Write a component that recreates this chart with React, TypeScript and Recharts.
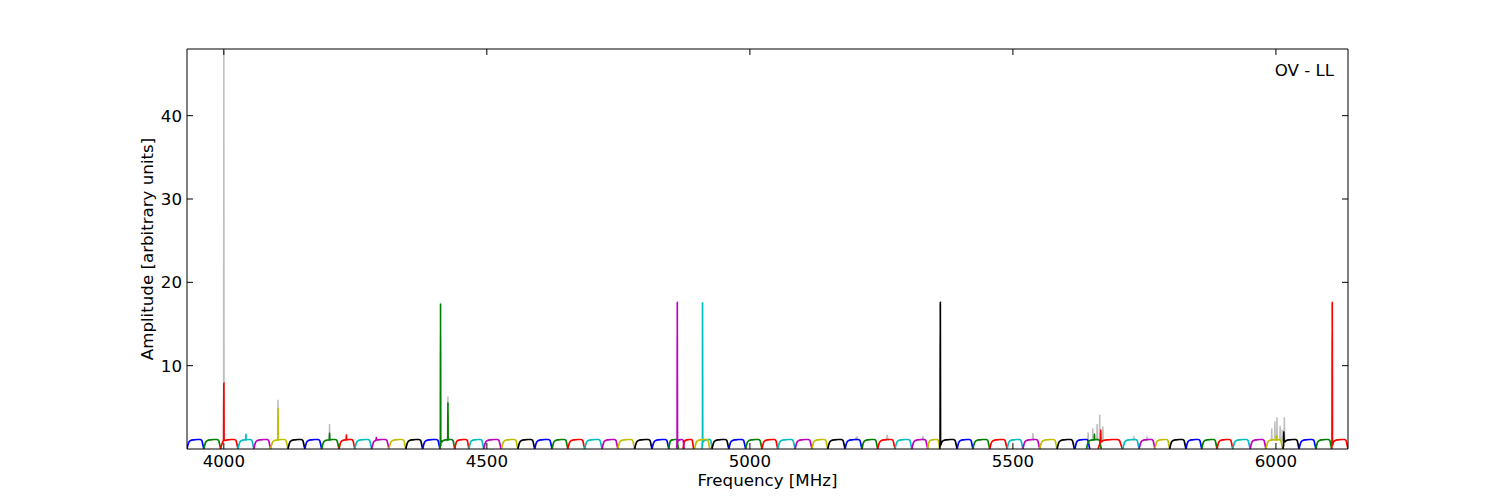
import React from 'react';
import { LineChart, Line, XAxis, YAxis } from 'recharts';

const FONT = '"DejaVu Sans", sans-serif';
const FS = 16.67;

// matplotlib classic colour cycle b g r c m y k
const BAND_COLORS = ['#0000ff', '#008000', '#ff0000', '#00bfbf', '#bf00bf', '#bfbf00', '#000000'];
const GRAY = '#bebebe';

// start frequency (MHz) of every sub-band, in band order
const BAND_START = [
  3930, 3962, 3994, 4027, 4057, 4089, 4122, 4154, 4186, 4219,
  4249, 4281, 4314, 4346, 4378, 4411, 4439, 4466, 4494, 4528,
  4559, 4591, 4624, 4654, 4686, 4719, 4749, 4781, 4814, 4846,
  4873, 4909, 4861, 4895, 4928, 4960, 4992, 5023, 5053, 5086,
  5118, 5148, 5181, 5213, 5243, 5276, 5308, 5338, 5361, 5394,
  5424, 5456, 5489, 5519, 5551, 5584, 5618, 5640, 5662, 5709,
  5740, 5770, 5798, 5829, 5859, 5888, 5918, 5951, 5981, 6013,
  6044, 6076, 6106,
];
// bands whose width differs from the gap to the next one
const BAND_WIDTH_FIX: Record<number, number> = {
  29: 18, 30: 20, 31: 19, 32: 14, 33: 29, 56: 28, 57: 28, 58: 46, 72: 31,
};

// bandpass shape: position across the band (0..1) and amplitude
const PROFILE_POS = [0, 0.05, 0.12, 0.22, 0.4, 0.6, 0.78, 0.88, 0.95, 1];
const PROFILE_AMP = [0.02, 0.45, 0.85, 1.02, 1.1, 1.14, 1.14, 1.02, 0.45, 0.02];

// narrow spikes inside the coloured bands
const SPIKE_BAND = [2, 3, 5, 8, 9, 11, 15, 15, 32, 31, 48, 57, 58, 68, 69, 72];
const SPIKE_FREQ = [4000, 4042, 4103, 4201, 4233, 4290, 4412, 4426, 4862, 4910, 5362, 5655, 5667, 6001, 6015, 6107];
const SPIKE_AMP = [7.9, 1.8, 4.9, 1.9, 1.7, 1.4, 17.5, 5.6, 17.6, 17.6, 17.6, 1.8, 2.3, 1.6, 2.1, 17.6];

// grey (unflagged) spectrum peaks showing behind the bands
const GRAY_FREQ = [4000, 4103, 4201, 4426, 5203, 5261, 5329, 5538, 5643, 5652, 5660, 5665, 5671, 5730, 5755, 5992, 5998, 6002, 6008, 6012, 6016];
const GRAY_AMP = [47.8, 5.9, 3.0, 6.3, 1.5, 1.7, 1.5, 1.9, 2.0, 2.5, 3.0, 4.1, 2.7, 1.4, 1.4, 2.5, 3.3, 3.8, 2.8, 2.3, 3.8];
const GRAY_HALF = [0.5, 0.5, 0.5, 0.5, 2, 2, 2, 1, 0.6, 0.6, 0.6, 0.6, 0.6, 2, 2, 0.6, 0.6, 0.6, 0.6, 0.6, 0.6];

const X_TICKS = [4000, 4500, 5000, 5500, 6000];
const Y_TICKS = [10, 20, 30, 40];

type Pt = { f: number; a: number | null };

function bandSeries(i: number): Pt[] {
  const start = BAND_START[i];
  const next = BAND_START[i + 1];
  const gap = next !== undefined && next > start ? next - start : 31;
  const width = BAND_WIDTH_FIX[i] ?? Math.min(gap, 33);
  const pts: Pt[] = PROFILE_POS.map((p, k) => ({ f: start + p * width, a: PROFILE_AMP[k] }));
  SPIKE_BAND.forEach((b, k) => {
    if (b !== i) return;
    const f = SPIKE_FREQ[k];
    pts.push({ f: f - 0.4, a: 1.08 }, { f, a: SPIKE_AMP[k] }, { f: f + 0.4, a: 1.08 });
  });
  return pts.sort((p, q) => p.f - q.f);
}

const grayData: Pt[] = [];
GRAY_FREQ.forEach((f, k) => {
  const h = GRAY_HALF[k];
  grayData.push({ f: f - h, a: 1 }, { f, a: GRAY_AMP[k] }, { f: f + h, a: 1 }, { f: f + h + 0.01, a: null });
});

const BottomTick = (props: any) => {
  const { x, y, payload } = props;
  return (
    <g>
      <line x1={x} x2={x} y1={y} y2={y - 6} stroke="#000" />
      <text x={x} y={y + 6} dy="0.71em" textAnchor="middle" fontFamily={FONT} fontSize={FS} fill="#000">
        {payload.value}
      </text>
    </g>
  );
};

const TopTick = (props: any) => {
  const { x, y } = props;
  return <line x1={x} x2={x} y1={y} y2={y + 6} stroke="#000" />;
};

const LeftTick = (props: any) => {
  const { x, y, payload } = props;
  return (
    <g>
      <line x1={x} x2={x + 6} y1={y} y2={y} stroke="#000" />
      <text x={x - 5} y={y} dy="0.355em" textAnchor="end" fontFamily={FONT} fontSize={FS} fill="#000">
        {payload.value}
      </text>
    </g>
  );
};

const RightTick = (props: any) => {
  const { x, y } = props;
  return <line x1={x} x2={x - 6} y1={y} y2={y} stroke="#000" />;
};

export default function App() {
  return (
    <div style={{ position: 'absolute', left: 0, top: 0, width: 1500, height: 500, background: '#fff' }}>
      <LineChart width={1500} height={500} margin={{ top: 48, right: 151, bottom: 0, left: 127 }}>
        <XAxis
          xAxisId="b"
          dataKey="f"
          type="number"
          domain={[3930, 6137]}
          allowDataOverflow
          ticks={X_TICKS}
          interval={0}
          height={51}
          tickSize={0}
          tickMargin={0}
          tickLine={false}
          axisLine={{ stroke: '#000' }}
          tick={<BottomTick />}
        />
        <XAxis
          xAxisId="t"
          orientation="top"
          dataKey="f"
          type="number"
          domain={[3930, 6137]}
          allowDataOverflow
          ticks={X_TICKS}
          interval={0}
          height={1}
          tickSize={0}
          tickMargin={0}
          tickLine={false}
          axisLine={{ stroke: '#000' }}
          tick={<TopTick />}
        />
        <YAxis
          yAxisId="l"
          type="number"
          domain={[0, 48]}
          allowDataOverflow
          ticks={Y_TICKS}
          interval={0}
          width={60}
          tickSize={0}
          tickMargin={0}
          tickLine={false}
          axisLine={{ stroke: '#000' }}
          tick={<LeftTick />}
        />
        <YAxis
          yAxisId="r"
          orientation="right"
          type="number"
          domain={[0, 48]}
          allowDataOverflow
          ticks={Y_TICKS}
          interval={0}
          width={1}
          tickSize={0}
          tickMargin={0}
          tickLine={false}
          axisLine={{ stroke: '#000' }}
          tick={<RightTick />}
        />
        {/* grey spectrum is tied to the top/right axes (same scales) so they get drawn */}
        <Line
          xAxisId="t"
          yAxisId="r"
          data={grayData}
          dataKey="a"
          type="linear"
          stroke={GRAY}
          strokeWidth={1.5}
          dot={false}
          activeDot={false}
          isAnimationActive={false}
        />
        {BAND_START.map((_, i) => (
          <Line
            key={i}
            xAxisId="b"
            yAxisId="l"
            data={bandSeries(i)}
            dataKey="a"
            type="monotone"
            stroke={BAND_COLORS[i % 7]}
            strokeWidth={1.7}
            dot={false}
            activeDot={false}
            isAnimationActive={false}
          />
        ))}
        <text x={767.5} y={486} textAnchor="middle" fontFamily={FONT} fontSize={FS} fill="#000">
          Frequency [MHz]
        </text>
        <text transform="translate(153,249) rotate(-90)" textAnchor="middle" fontFamily={FONT} fontSize={FS} fill="#000">
          Amplitude [arbitrary units]
        </text>
        <text x={1334} y={76} textAnchor="end" fontFamily={FONT} fontSize={FS} fill="#000">
          OV - LL
        </text>
      </LineChart>
    </div>
  );
}
